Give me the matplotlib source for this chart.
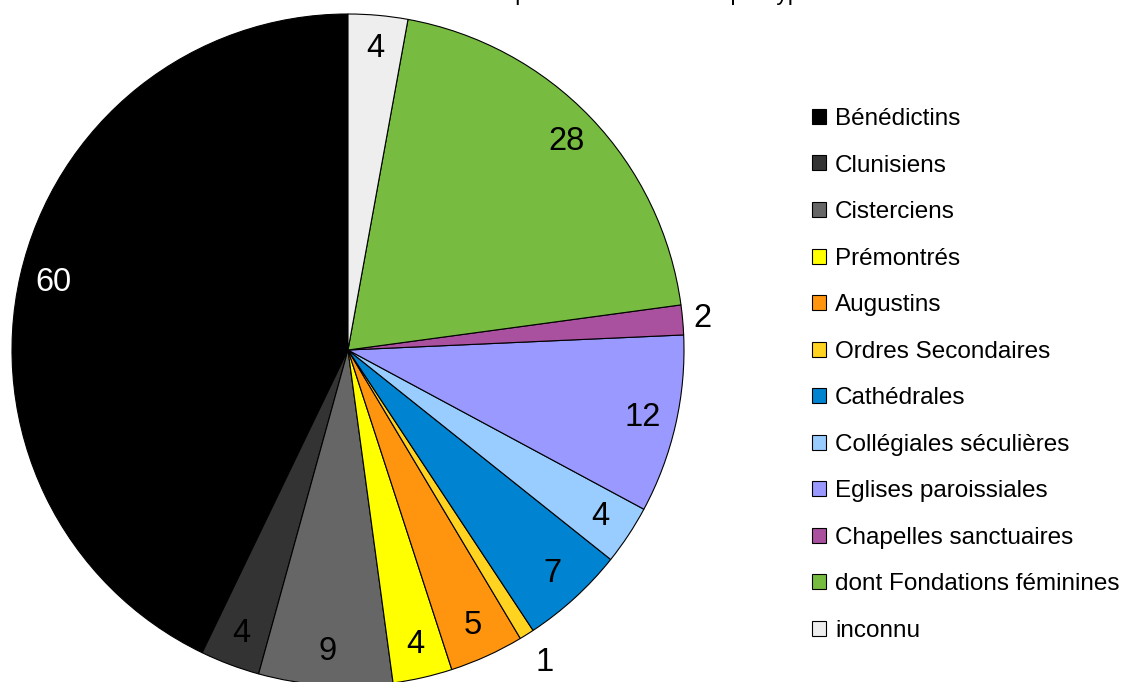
import numpy as np
import matplotlib
matplotlib.use("Agg")
import matplotlib.pyplot as plt

plt.rcParams['font.family'] = ['Liberation Sans', 'DejaVu Sans']

categories = ["Bénédictins", "Clunisiens", "Cisterciens", "Prémontrés", "Augustins",
              "Ordres Secondaires", "Cathédrales", "Collégiales séculières",
              "Eglises paroissiales", "Chapelles sanctuaires",
              "dont Fondations féminines", "inconnu"]
values = [60, 4, 9, 4, 5, 1, 7, 4, 12, 2, 28, 4]
colors = ["#000000", "#333333", "#666666", "#ffff00", "#ff950e", "#ffd320",
          "#0084d1", "#99ccff", "#9999ff", "#a9509f", "#77bc41", "#eeeeee"]
title = "Répartition des édifices par type"

W, H = 1124, 682
fig = plt.figure(figsize=(W / 100, H / 100), dpi=100)

# pie axes: centre (348, 350) px, radius 336 px
cx, cy, r = 348, 350, 336
ax = fig.add_axes([(cx - r) / W, (H - cy - r) / H, 2 * r / W, 2 * r / H])
total = sum(values)
wedges, texts, autotexts = ax.pie(
    values, colors=colors, startangle=90, counterclock=True,
    wedgeprops=dict(edgecolor="black", linewidth=0.8),
    autopct=lambda p: f"{p * total / 100:.0f}", pctdistance=0.9,
    textprops=dict(fontsize=23.5, color="black"))
ax.set_xlim(-1, 1)
ax.set_ylim(-1, 1)
ax.axis("off")

# white number on the black slice
autotexts[0].set_color("white")

# small slices get their number outside the pie
for w, t, v in zip(wedges, autotexts, values):
    if v <= 2:
        d = 1.06 if v == 2 else 1.1
        a = np.deg2rad((w.theta1 + w.theta2) / 2)
        t.set_position((d * np.cos(a), d * np.sin(a)))

# title is mostly cut off at the top edge
fig.text(486 / W, 1.0, title, fontsize=16.5, ha="left", va="baseline")

fig.legend(wedges, categories, loc="upper left",
           bbox_to_anchor=(812 / W, 1 - 108 / H), frameon=False,
           fontsize=17.5, borderpad=0, borderaxespad=0,
           handlelength=0.576, handleheight=0.576, handletextpad=0.37,
           labelspacing=1.01)

fig.savefig("out.png", dpi=100)
